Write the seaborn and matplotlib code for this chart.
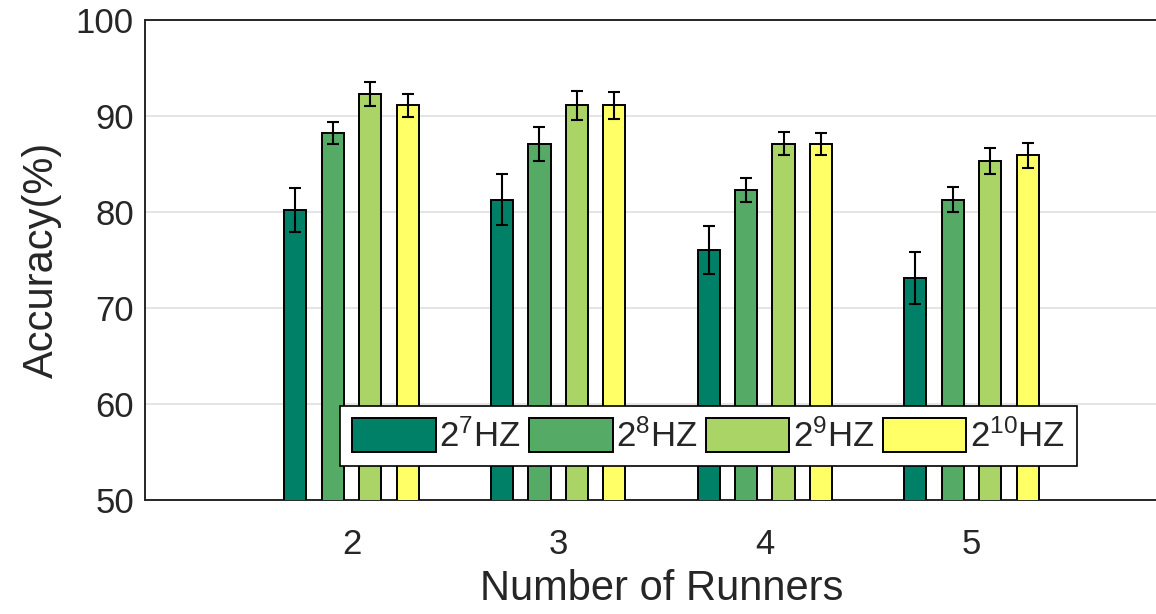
import numpy as np
import pandas as pd
import matplotlib
matplotlib.use("Agg")
import matplotlib.pyplot as plt
import seaborn as sns

runners = [2, 3, 4, 5]
freqs = ["2$\\mathregular{^{7}}$HZ", "2$\\mathregular{^{8}}$HZ", "2$\\mathregular{^{9}}$HZ", "2$\\mathregular{^{10}}$HZ"]
acc_2_7 = [80.2, 81.3, 76.0, 73.1]
acc_2_8 = [88.2, 87.1, 82.3, 81.3]
acc_2_9 = [92.3, 91.1, 87.1, 85.3]
acc_2_10 = [91.1, 91.1, 87.1, 85.9]
err_2_7 = [2.3, 2.7, 2.5, 2.7]
err_2_8 = [1.15, 1.75, 1.25, 1.35]
err_2_9 = [1.25, 1.55, 1.2, 1.35]
err_2_10 = [1.2, 1.4, 1.15, 1.3]
colors = ["#008066", "#55AA66", "#AAD466", "#FFFF66"]

accs = [acc_2_7, acc_2_8, acc_2_9, acc_2_10]
errs = [err_2_7, err_2_8, err_2_9, err_2_10]
rows = []
for f, a in zip(freqs, accs):
    for r, v in zip(runners, a):
        rows.append({"runners": r, "freq": f, "acc": v})
df = pd.DataFrame(rows)

sns.set_style("white")
plt.rcParams["font.family"] = ["Liberation Sans", "DejaVu Sans"]
textc = "#262626"

fig = plt.figure(figsize=(11.56, 6.14), dpi=100)
ax = fig.add_axes([145/1156, 1-500/614, 1033/1156, 480/614])

sns.barplot(data=df, x="runners", y="acc", hue="freq", hue_order=freqs,
            palette=colors, native_scale=True, width=0.725, gap=0.41,
            edgecolor="black", linewidth=1.4, errorbar=None, ax=ax, zorder=3,
            saturation=1)

for cont, e in zip(ax.containers, errs):
    xs = [p.get_x() + p.get_width()/2 for p in cont.patches]
    ys = [p.get_height() + p.get_y() for p in cont.patches]
    ax.errorbar(xs, ys, yerr=e, fmt="none", ecolor="black", elinewidth=1.5,
                capsize=4.5, capthick=1.5, zorder=4)

ax.set_xlim(1, 6)
ax.set_ylim(50, 100)
ax.set_yticks([50, 60, 70, 80, 90, 100])
ax.set_xticks(runners)
ax.set_xticklabels([str(r) for r in runners])
ax.yaxis.grid(True, color="#e3e3e3", linewidth=1.3, zorder=0)
ax.set_axisbelow(True)
for s in ["left", "top", "bottom"]:
    ax.spines[s].set_visible(True)
    ax.spines[s].set_color(textc)
    ax.spines[s].set_linewidth(1.4)
ax.spines["right"].set_visible(False)
ax.tick_params(axis="both", direction="in", length=7.5, width=1.2, colors=textc,
               labelsize=25, labelcolor=textc)
ax.tick_params(axis="x", pad=20)
ax.tick_params(axis="y", pad=8)
ax.set_xlabel("Number of Runners", fontsize=30, color=textc, labelpad=6)
ax.set_ylabel("Accuracy(%)", fontsize=30, color=textc, labelpad=10)

leg = ax.legend(loc="lower left", bbox_to_anchor=(0.189, 0.071), ncol=4,
                fontsize=25, frameon=True, fancybox=False, framealpha=1,
                edgecolor="black", borderaxespad=0, handlelength=2.4,
                handleheight=1.15, handletextpad=0.1, columnspacing=0.25,
                borderpad=0.35)
leg.get_frame().set_linewidth(1.2)
for t in leg.get_texts():
    t.set_color(textc)

fig.savefig("out.png", dpi=100)
